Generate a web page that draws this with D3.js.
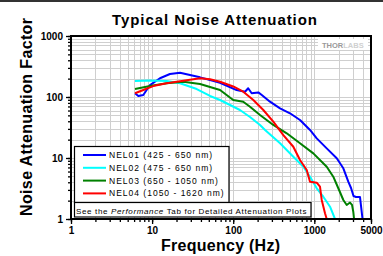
<!DOCTYPE html>
<html><head><meta charset="utf-8">
<script src="https://cdn.jsdelivr.net/npm/d3@7"></script>
<style>body{margin:0;background:#fff;} svg{display:block;font-family:"Liberation Sans",Arial,sans-serif;}</style>
</head><body><svg id="c" width="383" height="256"></svg>
<script>
// ---- data ----
const seriesNames = ["NEL01 (425 - 650 nm)", "NEL02 (475 - 650 nm)", "NEL03 (650 - 1050 nm)", "NEL04 (1050 - 1620 nm)"];
const seriesColors = ["#0000ff", "#00ffff", "#008000", "#ff0000"];

const nel01Freq = [6.15,6.76,7.79,9.42,12.5,16.6,22.1,29.3,39.0,51.8,68.8,110,140,153,169,204,225,284,378,501,666,885,1071,1422,1890,2279,2625,2837,3042,3266,3659,3819,3930];
const nel01Val  = [115,104,108,157,203,238,250,229,210,190,171,130,122,139,115,119,108,83.8,65.3,54.1,42.0,28.8,21.0,14.4,9.89,6.78,4.09,3.22,2.38,2.29,2.29,1.40,1.0];

const nel02Freq = [6.15,9.42,15.1,22.1,35.5,51.8,68.8,91.4,121,161,214,247,378,551,732,885,1071,1291,1563,1800];
const nel02Val  = [183,186,183,168,135,104,89.3,73.9,61.2,47.0,34.8,28.8,17.4,10.5,7.20,4.94,3.19,2.32,1.59,1.0];

const nel03Freq = [6.15,9.42,15.1,24.3,39.0,68.8,100,133,161,214,312,457,666,972,1422,1714,1977,2279,2510,2754,2917,3027,3090];
const nel03Val  = [135,151,168,178,163,130,89.3,83.8,69.3,50.7,34.8,25.4,17.4,11.9,7.20,4.94,3.19,2.05,1.70,1.86,1.70,1.30,1.0];

const nel04Freq = [6.15,7.79,10.3,15.1,24.3,39.0,51.8,68.8,100,133,177,235,312,415,551,666,806,885,1071,1175,1234,1355,1422];
const nel04Val  = [115,130,151,168,185,203,195,178,149,122,89.3,61.2,39.4,23.8,15.3,9.27,6.36,4.09,3.94,3.39,2.05,1.24,1.0];

const xMajorTicks = [1, 10, 100, 1000, 5000];
const xTickLabels = ["1", "10", "100", "1000", "5000"];
const yMajorTicks = [1, 10, 100, 1000];
const yTickLabels = ["1", "10", "100", "1000"];

const titleText = "Typical Noise Attenuation";
const xTitle = "Frequency (Hz)";
const yTitle = "Noise Attenuation Factor";

// ---- build ----
const series = [
  {name: seriesNames[0], color: seriesColors[0], pts: nel01Freq.map((f,i)=>[f, nel01Val[i]])},
  {name: seriesNames[1], color: seriesColors[1], pts: nel02Freq.map((f,i)=>[f, nel02Val[i]])},
  {name: seriesNames[2], color: seriesColors[2], pts: nel03Freq.map((f,i)=>[f, nel03Val[i]])},
  {name: seriesNames[3], color: seriesColors[3], pts: nel04Freq.map((f,i)=>[f, nel04Val[i]])}
];

const L = 71, R = 371, T = 36, B = 219;
const svg = d3.select("#c");
const x = d3.scaleLog().domain([1, 5000]).range([L, R]);
const y = d3.scaleLog().domain([1, 1000]).range([B, T]);

function minorVals(lo, hi) {
  const out = [];
  for (let d = 1; d <= hi; d *= 10) for (let k = 1; k <= 9; k++) { const v = k*d; if (v >= lo && v <= hi) out.push(v); }
  return out;
}
const xMinor = minorVals(1, 5000);
const yMinor = minorVals(1, 1000);

// top border
svg.append("rect").attr("x",0).attr("y",0).attr("width",383).attr("height",2).attr("fill","#333");

// grid
const grid = svg.append("g").attr("stroke","#cfcfcf").attr("stroke-width",1);
grid.selectAll("line.vx").data(xMinor.filter(v=>v>1 && v<5000)).join("line")
  .attr("x1",d=>Math.round(x(d))+0.5).attr("x2",d=>Math.round(x(d))+0.5).attr("y1",T).attr("y2",B);
grid.selectAll("line.hy").data(yMinor.filter(v=>v>1 && v<1000)).join("line")
  .attr("y1",d=>Math.round(y(d))+0.5).attr("y2",d=>Math.round(y(d))+0.5).attr("x1",L).attr("x2",R);

// logo
svg.append("rect").attr("x",318).attr("y",39).attr("width",50).attr("height",11).attr("fill","#fff");
const logo = svg.append("text").attr("x",322).attr("y",47.5).attr("font-size",7.5).attr("font-weight","bold");
logo.append("tspan").attr("fill","#999").text("THOR");
logo.append("tspan").attr("fill","#d0d0d0").text("LABS");

// curves
const line = d3.line().x(d=>x(d[0])).y(d=>y(d[1]));
svg.append("g").selectAll("path").data(series).join("path")
  .attr("d", d=>line(d.pts)).attr("fill","none").attr("stroke",d=>d.color)
  .attr("stroke-width",2).attr("stroke-linejoin","round");

// axes
const fmtY = d => { const i = yMajorTicks.indexOf(d); return i>=0 ? yTickLabels[i] : ""; };
const fmtX = d => { const i = xMajorTicks.indexOf(d); return i>=0 ? xTickLabels[i] : ""; };
const yMinorAx = svg.append("g").attr("transform",`translate(${L},0)`)
  .call(d3.axisLeft(y).tickValues(yMinor).tickSize(3).tickFormat(""));
const yMajorAx = svg.append("g").attr("transform",`translate(${L},0)`)
  .call(d3.axisLeft(y).tickValues(yMajorTicks).tickSize(5).tickPadding(3).tickFormat(fmtY));
const xMinorAx = svg.append("g").attr("transform",`translate(0,${B})`)
  .call(d3.axisBottom(x).tickValues(xMinor).tickSize(3).tickFormat(""));
const xMajorAx = svg.append("g").attr("transform",`translate(0,${B})`)
  .call(d3.axisBottom(x).tickValues(xMajorTicks).tickSize(5).tickPadding(3).tickFormat(fmtX));
[yMinorAx,yMajorAx,xMinorAx,xMajorAx].forEach(g=>{
  g.select(".domain").remove();
  g.selectAll(".tick line").attr("stroke","#000").attr("stroke-width",1.3);
  g.selectAll("text").attr("font-family","Liberation Sans, Arial, sans-serif").attr("font-size",10).attr("font-weight","bold").attr("fill","#000");
});

// frame
svg.append("rect").attr("x",L).attr("y",T).attr("width",R-L).attr("height",B-T)
  .attr("fill","none").attr("stroke","#000").attr("stroke-width",2);

// legend
const lg = svg.append("g");
lg.append("rect").attr("x",74.5).attr("y",146.5).attr("width",154.5).attr("height",56)
  .attr("fill","#fff").attr("stroke","#000").attr("stroke-width",1.2);
lg.append("rect").attr("x",74.5).attr("y",202.5).attr("width",236.5).attr("height",14.5)
  .attr("fill","#fff").attr("stroke","#000").attr("stroke-width",1.2);
const rowY = i => 155 + i*12.8;
series.forEach((s,i)=>{
  lg.append("line").attr("x1",83).attr("x2",106).attr("y1",rowY(i)).attr("y2",rowY(i))
    .attr("stroke",s.color).attr("stroke-width",2);
  lg.append("text").attr("x",109).attr("y",rowY(i)+3).attr("font-size",8.5)
    .attr("letter-spacing",1).attr("fill","#000").text(s.name);
});
const foot = lg.append("text").attr("x",76).attr("y",213.5).attr("font-size",8).attr("letter-spacing",0.65).attr("fill","#000");
foot.append("tspan").text("See the ");
foot.append("tspan").attr("font-style","italic").text("Performance");
foot.append("tspan").text(" Tab for Detailed Attenuation Plots");

// titles
svg.append("text").attr("x",214.5).attr("y",25).attr("text-anchor","middle")
  .attr("font-size",15).attr("font-weight","bold").attr("textLength",205).attr("lengthAdjust","spacing").text(titleText);
svg.append("text").attr("x",220.5).attr("y",251).attr("text-anchor","middle")
  .attr("font-size",16).attr("font-weight","bold").attr("textLength",119).attr("lengthAdjust","spacing").text(xTitle);
svg.append("text").attr("transform","translate(32,117) rotate(-90)").attr("text-anchor","middle")
  .attr("font-size",16).attr("font-weight","bold").attr("textLength",198).attr("lengthAdjust","spacing").text(yTitle);
</script></body></html>
